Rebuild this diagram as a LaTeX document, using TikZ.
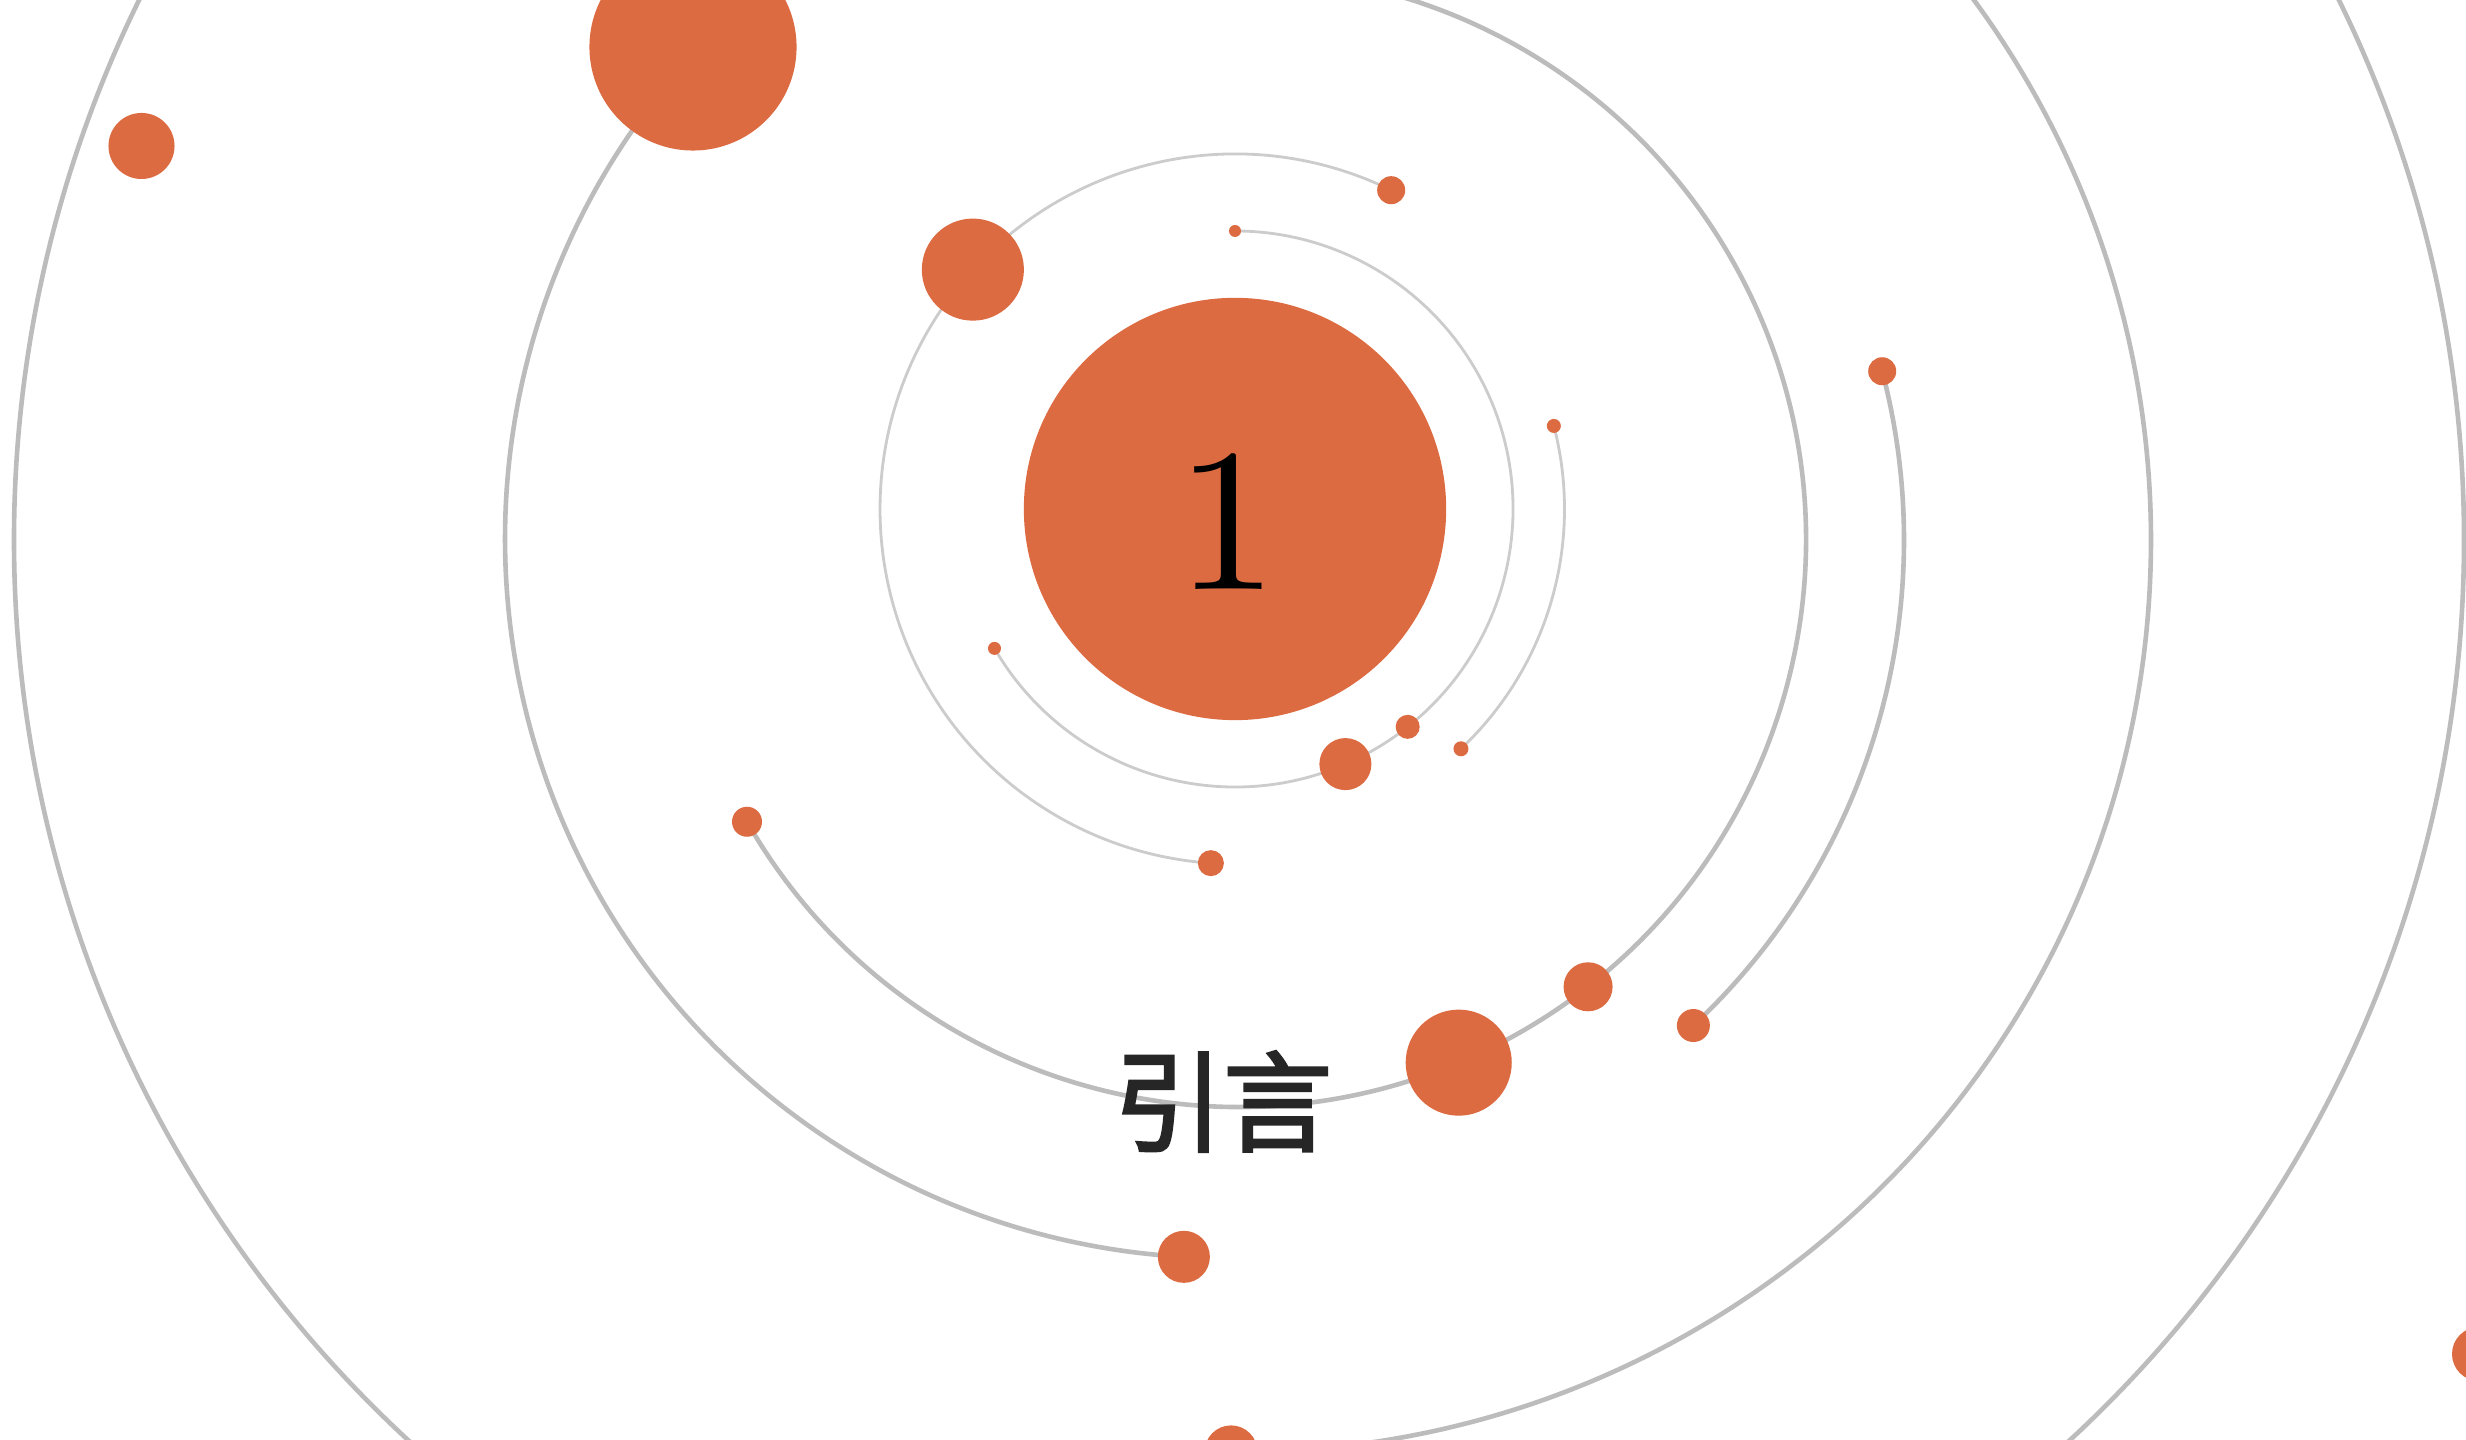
\documentclass[tikz,border=0pt]{standalone}
\usepackage{fontspec}
\newfontfamily\cjkfont{Noto Sans CJK SC}[FakeBold=2.5]
\newfontfamily\numfont{lmroman10-regular.otf}
\usetikzlibrary{calc}
\definecolor{dotorange}{RGB}{221,107,66}
\definecolor{ringgray}{RGB}{188,188,188}
\definecolor{ringlight}{RGB}{204,204,204}
\definecolor{textdark}{RGB}{38,38,38}
\begin{document}
\begin{tikzpicture}[x=0.01cm, y=0.01cm,
  dot/.style={circle, fill=dotorange, draw=none, inner sep=0pt, minimum size=#1*0.02cm},
  outer ring/.style={draw=ringgray, line width=0.046cm},
  inner ring/.style={draw=ringlight, line width=0.028cm}]
\useasboundingbox (0,0) rectangle (2466,1440);
\clip (0,0) rectangle (2466,1440);
\fill[white] (0,0) rectangle (2466,1440);
% centres
\coordinate (c1) at (1235,931);
\coordinate (c2) at (1239,900);
\coordinate (c3) at (1224,901);
% ---------- outer rings ----------
\draw[outer ring] (c2) circle[radius=1225];
\coordinate (p19) at ($(c2)+(269.5:912)$);
\draw[outer ring] (p19) arc[start angle=269.5, end angle=460, radius=912];
\coordinate (p13) at ($(c2)+(209.8:567)$);
\coordinate (p14) at ($(c2)+(292.8:567)$);
\coordinate (p15) at ($(c2)+(308:567)$);
\draw[outer ring] (p13) arc[start angle=209.8, end angle=455, radius=567];
\coordinate (p17) at ($(c2)+(14.7:665)$);
\coordinate (p16) at ($(c2)+(-46.9:665)$);
\draw[outer ring] (p17) arc[start angle=14.7, end angle=-46.9, radius=665];
\coordinate (p2) at ($(c3)+(137.9:719)$);
\coordinate (p18) at ($(c3)+(266.8:719)$);
\draw[outer ring] (p2) arc[start angle=137.9, end angle=266.8, radius=719];
% ---------- inner rings ----------
\coordinate (p11) at ($(c1)+(210.1:278)$);
\coordinate (p10) at ($(c1)+(293.4:278)$);
\coordinate (p9) at ($(c1)+(308.4:278)$);
\coordinate (p6) at ($(c1)+(90:278)$);
\draw[inner ring] (p11) arc[start angle=210.1, end angle=450, radius=278];
\coordinate (p7) at ($(c1)+(14.6:329.5)$);
\coordinate (p8) at ($(c1)+(-46.7:329.5)$);
\draw[inner ring] (p7) arc[start angle=14.6, end angle=-46.7, radius=329.5];
\coordinate (p5) at ($(c1)+(63.9:355)$);
\coordinate (p4) at ($(c1)+(137.6:355)$);
\coordinate (p12) at ($(c1)+(266.1:355)$);
\draw[inner ring] (p5) arc[start angle=63.9, end angle=266.1, radius=355];
% ---------- dots ----------
\node[dot=211] (core) at (c1) {};
\node[dot=103.5] (d2) at (693,1393) {};
\node[dot=33] (d3) at (141.5,1294) {};
\node[dot=51] (d4) at (p4) {};
\node[dot=14] (d5) at (p5) {};
\node[dot=6] (d6) at (p6) {};
\node[dot=7] (d7) at (p7) {};
\node[dot=7.5] (d8) at (p8) {};
\node[dot=12] (d9) at (p9) {};
\node[dot=26] (d10) at (p10) {};
\node[dot=6.5] (d11) at (p11) {};
\node[dot=13] (d12) at (p12) {};
\node[dot=15] (d13) at (p13) {};
\node[dot=53] (d14) at (p14) {};
\node[dot=24.5] (d15) at (p15) {};
\node[dot=16.5] (d16) at (p16) {};
\node[dot=14] (d17) at (p17) {};
\node[dot=26] (d18) at (p18) {};
\node[dot=26.5] (d19) at (p19) {};
\node[dot=27] (d20) at (2479,86) {};
% ---------- texts ----------
\node[anchor=base, inner sep=0pt, font=\numfont\fontsize{58}{60}\selectfont] (num) at (1227.5,850) {1};
\node[inner sep=0pt, text=textdark, font=\cjkfont\fontsize{31}{33}\selectfont] (title) at (1223,338.5) {引言};
\end{tikzpicture}
\end{document}
